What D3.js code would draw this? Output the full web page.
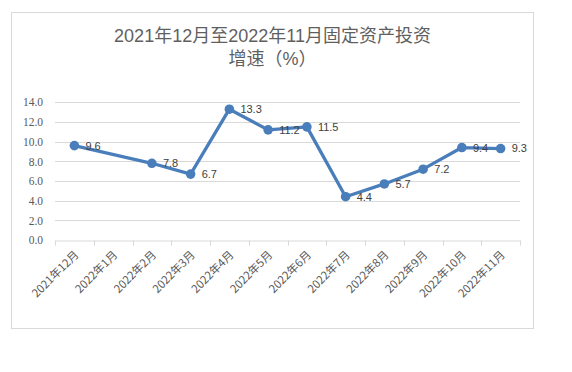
<!DOCTYPE html>
<html>
<head>
<meta charset="utf-8">
<script src="https://cdn.jsdelivr.net/npm/d3@7"></script>
<style>
  html, body { margin: 0; padding: 0; background: #ffffff; }
  svg { display: block; }
</style>
</head>
<body>
<svg id="chart" width="572" height="372"></svg>
<script>
const categories = ["2021年12月","2022年1月","2022年2月","2022年3月","2022年4月","2022年5月","2022年6月","2022年7月","2022年8月","2022年9月","2022年10月","2022年11月"];
const growth = [9.6, null, 7.8, 6.7, 13.3, 11.2, 11.5, 4.4, 5.7, 7.2, 9.4, 9.3];
const yTicks = [0, 2, 4, 6, 8, 10, 12, 14];
const titleLines = ["2021年12月至2022年11月固定资产投资", "增速（%）"];

const svg = d3.select("#chart");
const W = 572, H = 372;
svg.append("rect").attr("width", W).attr("height", H).attr("fill", "#ffffff");

// chart frame
svg.append("rect")
  .attr("x", 11.5).attr("y", 12.5)
  .attr("width", 522).attr("height", 316)
  .attr("fill", "#ffffff").attr("stroke", "#d9d9d9").attr("stroke-width", 1);

const plot = { left: 55, right: 520, top: 102.3, bottom: 240 };

const x = d3.scaleBand().domain(categories).range([plot.left, plot.right]).padding(0);
const y = d3.scaleLinear().domain([0, 14]).range([plot.bottom, plot.top]);

// title
const title = svg.append("g")
  .attr("fill", "#5f5f5f")
  .style("font-family", "'Liberation Sans', 'Noto Sans CJK SC', sans-serif")
  .style("font-size", "18px");
titleLines.forEach((t, i) => {
  title.append("text")
    .attr("text-anchor", "middle")
    .attr("x", 272.5).attr("y", 42 + i * 23)
    .text(t);
});

// gridlines
svg.append("g")
  .selectAll("line")
  .data(yTicks.filter(d => d > 0))
  .join("line")
  .attr("x1", plot.left).attr("x2", plot.right)
  .attr("y1", d => Math.round(y(d)) + 0.5).attr("y2", d => Math.round(y(d)) + 0.5)
  .attr("stroke", "#d9d9d9").attr("stroke-width", 1);

// y axis labels
const yAxis = d3.axisLeft(y).tickValues(yTicks).tickFormat(d3.format(".1f")).tickSize(0).tickPadding(12);
const yg = svg.append("g").attr("transform", `translate(${plot.left},0)`).call(yAxis);
yg.select(".domain").remove();
yg.selectAll("text")
  .attr("fill", "#595959")
  .style("font-family", "'Liberation Serif', serif")
  .style("font-size", "11.5px");

// x axis
const xAxis = d3.axisBottom(x).tickSize(0).tickFormat(d => d);
const xg = svg.append("g").attr("transform", `translate(0,${Math.round(plot.bottom) + 0.5})`).call(xAxis);
xg.select(".domain").attr("stroke", "#d9d9d9");
xg.selectAll(".tick line").remove();
// tick marks at category boundaries
const bounds = categories.map(c => x(c)).concat([x(categories[categories.length - 1]) + x.bandwidth()]);
xg.append("g").selectAll("line")
  .data(bounds)
  .join("line")
  .attr("x1", d => Math.round(d) + 0.5).attr("x2", d => Math.round(d) + 0.5)
  .attr("y1", 0).attr("y2", 5)
  .attr("stroke", "#d9d9d9");
xg.selectAll(".tick text")
  .attr("fill", "#595959")
  .attr("text-anchor", "end")
  .attr("y", 0).attr("dy", 0)
  .attr("transform", `translate(5,15) rotate(-45)`)
  .style("font-family", "'Noto Sans CJK SC', 'Noto Sans', sans-serif")
  .style("font-size", "11.3px");

// line series
const pts = categories.map((c, i) => ({ c, v: growth[i] })).filter(d => d.v !== null);
const line = d3.line().x(d => x(d.c) + x.bandwidth() / 2).y(d => y(d.v));
svg.append("path")
  .datum(pts)
  .attr("d", line)
  .attr("fill", "none")
  .attr("stroke", "#4A7EBB")
  .attr("stroke-width", 3.3)
  .attr("stroke-linejoin", "round");

svg.append("g").selectAll("circle")
  .data(pts)
  .join("circle")
  .attr("cx", d => x(d.c) + x.bandwidth() / 2)
  .attr("cy", d => y(d.v))
  .attr("r", 4.8)
  .attr("fill", "#4A7EBB");

// data labels
svg.append("g").selectAll("text")
  .data(pts)
  .join("text")
  .attr("x", d => x(d.c) + x.bandwidth() / 2 + 11)
  .attr("y", d => y(d.v))
  .attr("dy", "0.36em")
  .attr("fill", "#404040")
  .style("font-family", "'Liberation Sans', Arial, sans-serif")
  .style("font-size", "11px")
  .text(d => d3.format(".1f")(d.v));
</script>
</body>
</html>
